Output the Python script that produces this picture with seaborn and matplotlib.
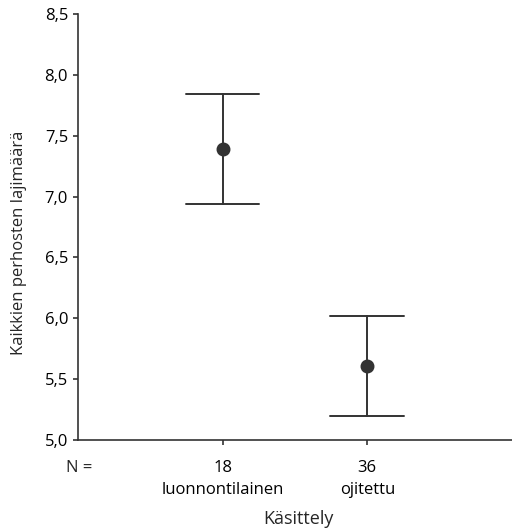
import pandas as pd
import numpy as np
import matplotlib
matplotlib.use("Agg")
import matplotlib.pyplot as plt
import matplotlib.transforms as mtransforms
import seaborn as sns

sns.set_style("ticks")
plt.rcParams["font.family"] = ["Open Sans", "DejaVu Sans"]
plt.rcParams.update({'font.size': 12})

# group values: lower limit, mean, upper limit
groups = ['luonnontilainen', 'ojitettu']
n_counts = [18, 36]
means = [7.39, 5.61]
lower = [6.94, 5.20]
upper = [7.84, 6.02]
yticks = [5.0, 5.5, 6.0, 6.5, 7.0, 7.5, 8.0, 8.5]
ytick_labels = ['5,0', '5,5', '6,0', '6,5', '7,0', '7,5', '8,0', '8,5']

# three rows per group: median = mean, 100% interval = lower..upper
rows = []
for g, lo, m, hi in zip(groups, lower, means, upper):
    for v in (lo, m, hi):
        rows.append({'Käsittely': g, 'lajimäärä': v})
df = pd.DataFrame(rows)

fig = plt.figure(figsize=(5.12, 5.31), dpi=100)
ax = fig.add_axes([0.152, 0.1714, 0.848, 0.8022])
col = '#333333'
sns.pointplot(data=df, x='Käsittely', y='lajimäärä', order=groups,
              estimator='median', errorbar=('pi', 100), linestyle='none',
              color=col, markersize=8, capsize=0.51, err_kws={'linewidth': 1.4},
              ax=ax)

ax.set_xlim(-1, 2)
ax.set_ylim(5.0, 8.5)
ax.set_yticks(yticks)
ax.set_yticklabels(ytick_labels)
ax.set_xticks(range(len(groups)))
ax.set_xticklabels([f"{n}\n{g}" for n, g in zip(n_counts, groups)],
                   linespacing=1.5)
ax.tick_params(axis='both', length=3.5, width=1.2, colors=col, labelcolor='black',
               labelsize=12)
ax.tick_params(axis='x', pad=11)
ax.tick_params(axis='y', pad=3.5)
sns.despine(ax=ax)
for s in ['left', 'bottom']:
    ax.spines[s].set_color(col)
    ax.spines[s].set_linewidth(1.2)

# "N =" on the same row as the counts
off = mtransforms.ScaledTranslation(0, -14.5 / 72, fig.dpi_scale_trans)
ax.text(0.003, 0, 'N =', transform=ax.transAxes + off, ha='center', va='top',
        fontsize=12)

ax.set_xlabel('Käsittely', fontsize=13)
ax.xaxis.set_label_coords(0.507, -0.165)
ax.set_ylabel('Kaikkien perhosten lajimäärä', fontsize=12)
ax.yaxis.set_label_coords(-0.1175, 0.463)

plt.savefig("out.png", dpi=100)
